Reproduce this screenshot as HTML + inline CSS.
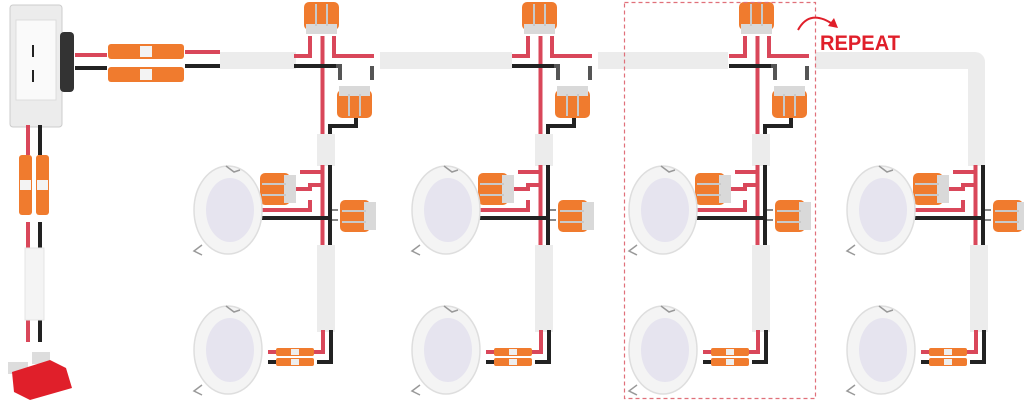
<!DOCTYPE html>
<html><head><meta charset="utf-8"><style>
html,body{margin:0;padding:0;background:#fff;}
svg{display:block}
</style></head><body>
<svg width="1024" height="402" viewBox="0 0 1024 402" xmlns="http://www.w3.org/2000/svg">
<defs>
  <g id="conn3v">
    <rect x="0" y="0" width="35" height="28" rx="5" fill="#f07b2e"/>
    <rect x="2" y="22" width="31" height="10" fill="#d9d9d9"/>
    <rect x="11" y="2" width="2" height="22" fill="#c9c9c9"/>
    <rect x="22" y="2" width="2" height="22" fill="#c9c9c9"/>
  </g>
  <g id="conn3h">
    <rect x="0" y="0" width="30" height="32" rx="5" fill="#f07b2e"/>
    <rect x="24" y="2" width="12" height="28" fill="#d9d9d9"/>
    <rect x="2" y="10" width="24" height="2" fill="#c9c9c9"/>
    <rect x="2" y="21" width="24" height="2" fill="#c9c9c9"/>
  </g>
  <g id="light">
    <ellipse cx="0" cy="0" rx="34" ry="44" fill="#f4f4f4" stroke="#dedede" stroke-width="1.5"/>
    <ellipse cx="2" cy="0" rx="24" ry="32" fill="#e6e4ef"/>
    <path d="M-26 35 l-8 6 l8 4" fill="none" stroke="#999" stroke-width="1.5"/>
    <path d="M-2 -44 l8 6 l6 -2" fill="none" stroke="#999" stroke-width="1.5"/>
  </g>
  <g id="butt">
    <rect x="0" y="0" width="38" height="8" rx="2" fill="#f07b2e"/>
    <rect x="15" y="1" width="8" height="6" fill="#eee"/>
  </g>
  <!-- lower part per group, red x = 0 -->
  <g id="lower">
    <rect x="-1.5" y="165" width="4" height="90" fill="#d9475a"/>
    <rect x="6" y="165" width="4" height="90" fill="#222"/>
    <!-- branches to light connector -->
    <path d="M0 172 h-22 M0 185 h-12 v4 h-20" stroke="#d9475a" stroke-width="4" fill="none"/>
    <path d="M-12 200 v10 h-72" stroke="#d9475a" stroke-width="4" fill="none"/>
    <path d="M6 218 h-90" stroke="#222" stroke-width="4" fill="none"/>
    <use href="#conn3h" transform="translate(-62,173)"/>
    <use href="#conn3h" transform="translate(18,200)"/>
    <path d="M10 210 h6 M10 220 h6" stroke="#888" stroke-width="2"/>
    <rect x="-5" y="245" width="18" height="87" fill="#ececec"/>
    <path d="M1 330 v22 h-12" stroke="#d9475a" stroke-width="4" fill="none"/>
    <path d="M9 330 v32 h-14" stroke="#222" stroke-width="4" fill="none"/>
    <use href="#butt" transform="translate(-46,348)"/>
    <use href="#butt" transform="translate(-46,358)"/>
    <path d="M-46 352 h-8" stroke="#d9475a" stroke-width="4"/>
    <path d="M-46 362 h-8" stroke="#222" stroke-width="4"/>
    <use href="#light" transform="translate(-94,210)"/>
    <use href="#light" transform="translate(-94,350)"/>
  </g>
  <g id="tee">
    <use href="#conn3v" transform="translate(-18,2)"/>
    <path d="M-12 36 v20 h-16" stroke="#d9475a" stroke-width="4" fill="none"/>
    <path d="M12 36 v20 h40" stroke="#d9475a" stroke-width="4" fill="none"/>
    <rect x="-1.5" y="36" width="4" height="100" fill="#d9475a"/>
    <path d="M-28 66 h42" stroke="#222" stroke-width="4"/>
    <path d="M14 66 h4 v14 M50 66 v14" stroke="#555" stroke-width="4" fill="none"/>
    <g transform="translate(50,118) rotate(180)"><use href="#conn3v"/></g>
    <path d="M34 118 v8 h-26 v10" stroke="#222" stroke-width="4" fill="none"/>
    <rect x="-5" y="134" width="18" height="32" fill="#ececec"/>
  </g>
</defs>

<!-- trunk cable -->
<rect x="220" y="52" width="76" height="17" fill="#ececec"/>
<rect x="380" y="52" width="132" height="17" fill="#ececec"/>
<rect x="598" y="52" width="130" height="17" fill="#ececec"/>
<path d="M815 52 H975 a10 10 0 0 1 10 10 V166 H968 V69 H815 Z" fill="#ececec"/>
<path d="M185 52 h35" stroke="#d9475a" stroke-width="4"/>
<path d="M185 66 h35" stroke="#222" stroke-width="4"/>

<use href="#tee" transform="translate(322,0)"/>
<use href="#tee" transform="translate(540,0)"/>
<use href="#tee" transform="translate(757,0)"/>
<use href="#lower" transform="translate(322,0)"/>
<use href="#lower" transform="translate(540,0)"/>
<use href="#lower" transform="translate(757,0)"/>
<use href="#lower" transform="translate(975,0)"/>

<!-- switch -->
<rect x="10" y="5" width="52" height="122" rx="3" fill="#ececec" stroke="#ccc"/>
<rect x="16" y="20" width="40" height="80" fill="#fafafa" stroke="#ddd"/>
<rect x="60" y="32" width="14" height="60" rx="4" fill="#333"/>
<path d="M33 45 v12 M33 70 v12" stroke="#222" stroke-width="2"/>
<path d="M75 55 h32" stroke="#d9475a" stroke-width="4"/>
<path d="M75 68 h32" stroke="#222" stroke-width="4"/>
<rect x="108" y="44" width="76" height="15" rx="3" fill="#f07b2e"/>
<rect x="108" y="67" width="76" height="15" rx="3" fill="#f07b2e"/>
<rect x="140" y="46" width="12" height="11" fill="#f3f3f3"/>
<rect x="140" y="69" width="12" height="11" fill="#f3f3f3"/>
<path d="M28 125 v30" stroke="#d9475a" stroke-width="4"/>
<path d="M40 125 v30" stroke="#222" stroke-width="4"/>
<rect x="19" y="155" width="13" height="60" rx="3" fill="#f07b2e"/>
<rect x="36" y="155" width="13" height="60" rx="3" fill="#f07b2e"/>
<rect x="20" y="180" width="11" height="10" fill="#f3f3f3"/>
<rect x="37" y="180" width="11" height="10" fill="#f3f3f3"/>
<path d="M28 222 v120" stroke="#d9475a" stroke-width="4"/>
<path d="M40 222 v120" stroke="#222" stroke-width="4"/>
<rect x="25" y="248" width="19" height="72" fill="#f4f4f4" stroke="#e4e4e4"/>
<!-- fuse -->
<rect x="8" y="362" width="20" height="12" fill="#ddd"/>
<rect x="32" y="352" width="18" height="12" fill="#ddd"/>
<path d="M12 372 L50 360 L66 368 L72 388 L30 400 L14 392 Z" fill="#e01f2a"/>

<!-- dashed box -->
<rect x="624.5" y="2.5" width="191" height="396" fill="none" stroke="#e0707a" stroke-width="1.2" stroke-dasharray="4 3"/>
<!-- repeat -->
<path d="M798 30 q12 -22 36 -5" fill="none" stroke="#e01f2a" stroke-width="2"/>
<path d="M838 28 l-10 -2 l6 -8 z" fill="#e01f2a"/>
<text x="820" y="50" font-family="Liberation Sans, sans-serif" font-weight="bold" font-size="21" fill="#e01f2a" textLength="80" lengthAdjust="spacingAndGlyphs">REPEAT</text>
</svg>
</body></html>
